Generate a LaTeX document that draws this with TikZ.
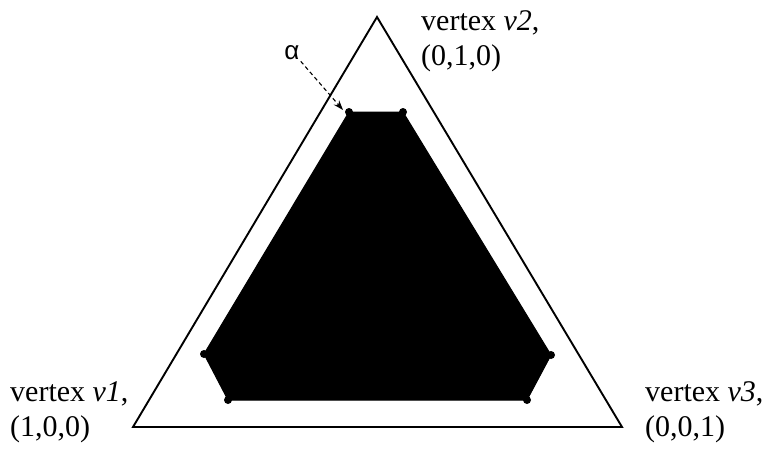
\documentclass[tikz,border=0pt]{standalone}
\usepackage{fontspec}
\setmainfont{Liberation Serif}
\newfontfamily\alphafont{Liberation Sans}
\usetikzlibrary{arrows.meta}
\tikzset{
  tri/.style={line width=1.9pt, line join=miter},
  hexa/.style={fill=black, draw=black, line width=1pt},
  vdot/.style={circle, fill=black, inner sep=0pt, minimum size=8pt},
  lbl/.style={anchor=base west, inner sep=0pt, font=\fontsize{30}{35}\selectfont},
  ptr/.style={dashed, line width=1.1pt, dash pattern=on 4pt off 3pt, -{Stealth[length=10pt,width=7pt]}}
}
\begin{document}
\begin{tikzpicture}[x=1pt,y=-1pt]
\useasboundingbox (0,0) rectangle (768,450);
% outer triangle
\coordinate (V1) at (133,427);
\coordinate (V2) at (377,17);
\coordinate (V3) at (622,427);
\draw[tri] (V1) -- (V2) -- (V3) -- cycle;
% hexagon
\node[vdot] (h1) at (349,112) {};
\node[vdot] (h2) at (403,112) {};
\node[vdot] (h3) at (551,355) {};
\node[vdot] (h4) at (527,400) {};
\node[vdot] (h5) at (228,400) {};
\node[vdot] (h6) at (204,354) {};
\fill[hexa] (h1.center) -- (h2.center) -- (h3.center) -- (h4.center) -- (h5.center) -- (h6.center) -- cycle;
% labels
\node[lbl] (l1a) at (10,401) {vertex \emph{v1},};
\node[lbl] (l1b) at (10,436) {(1,0,0)};
\node[lbl] (l2a) at (421,30) {vertex \emph{v2},};
\node[lbl] (l2b) at (421,65) {(0,1,0)};
\node[lbl] (l3a) at (645,401) {vertex \emph{v3},};
\node[lbl] (l3b) at (645,436) {(0,0,1)};
% alpha
\node[inner sep=1pt, font=\alphafont\fontsize{26}{30}\selectfont] (al) at (292,53) {α};
\coordinate (tip) at (343,110);
\draw[ptr] (al.south east) -- (tip);
\end{tikzpicture}
\end{document}
